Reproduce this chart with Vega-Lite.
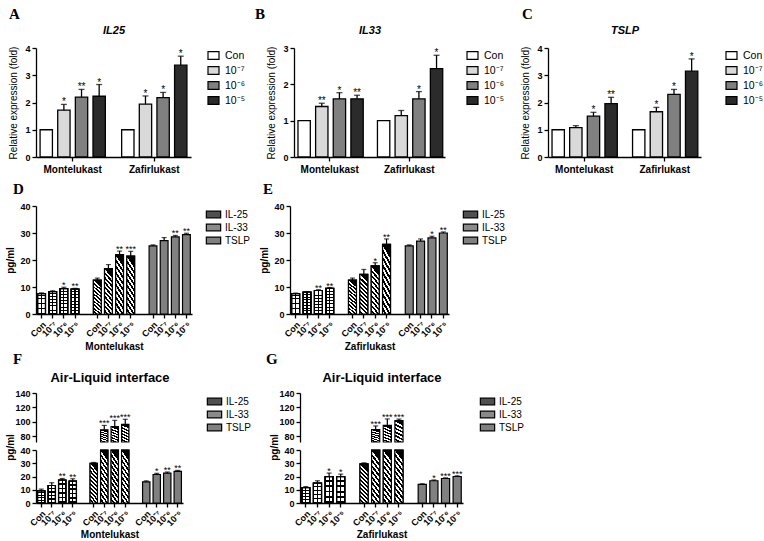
{
"$schema":"https://vega.github.io/schema/vega-lite/v6.json",
"padding":{"left":5,"top":7,"right":0,"bottom":0},
"background":"white",
"datasets":{
"fold":[
{"gene":"IL25","drug":"Montelukast","dose":"Con","v":1,"hi":null,"sig":""},
{"gene":"IL25","drug":"Montelukast","dose":"10⁻⁷","v":1.72,"hi":1.93,"sig":"*"},
{"gene":"IL25","drug":"Montelukast","dose":"10⁻⁶","v":2.2,"hi":2.48,"sig":"**"},
{"gene":"IL25","drug":"Montelukast","dose":"10⁻⁵","v":2.23,"hi":2.66,"sig":"*"},
{"gene":"IL25","drug":"Zafirlukast","dose":"Con","v":1,"hi":null,"sig":""},
{"gene":"IL25","drug":"Zafirlukast","dose":"10⁻⁷","v":1.94,"hi":2.24,"sig":"*"},
{"gene":"IL25","drug":"Zafirlukast","dose":"10⁻⁶","v":2.18,"hi":2.37,"sig":"*"},
{"gene":"IL25","drug":"Zafirlukast","dose":"10⁻⁵","v":3.37,"hi":3.7,"sig":"*"},
{"gene":"IL33","drug":"Montelukast","dose":"Con","v":1,"hi":null,"sig":""},
{"gene":"IL33","drug":"Montelukast","dose":"10⁻⁷","v":1.39,"hi":1.48,"sig":"**"},
{"gene":"IL33","drug":"Montelukast","dose":"10⁻⁶","v":1.6,"hi":1.77,"sig":"*"},
{"gene":"IL33","drug":"Montelukast","dose":"10⁻⁵","v":1.6,"hi":1.7,"sig":"**"},
{"gene":"IL33","drug":"Zafirlukast","dose":"Con","v":1,"hi":null,"sig":""},
{"gene":"IL33","drug":"Zafirlukast","dose":"10⁻⁷","v":1.14,"hi":1.28,"sig":""},
{"gene":"IL33","drug":"Zafirlukast","dose":"10⁻⁶","v":1.6,"hi":1.8,"sig":"*"},
{"gene":"IL33","drug":"Zafirlukast","dose":"10⁻⁵","v":2.43,"hi":2.8,"sig":"*"},
{"gene":"TSLP","drug":"Montelukast","dose":"Con","v":1,"hi":null,"sig":""},
{"gene":"TSLP","drug":"Montelukast","dose":"10⁻⁷","v":1.08,"hi":1.15,"sig":""},
{"gene":"TSLP","drug":"Montelukast","dose":"10⁻⁶","v":1.5,"hi":1.64,"sig":"*"},
{"gene":"TSLP","drug":"Montelukast","dose":"10⁻⁵","v":1.96,"hi":2.19,"sig":"**"},
{"gene":"TSLP","drug":"Zafirlukast","dose":"Con","v":1,"hi":null,"sig":""},
{"gene":"TSLP","drug":"Zafirlukast","dose":"10⁻⁷","v":1.66,"hi":1.82,"sig":"*"},
{"gene":"TSLP","drug":"Zafirlukast","dose":"10⁻⁶","v":2.3,"hi":2.48,"sig":"*"},
{"gene":"TSLP","drug":"Zafirlukast","dose":"10⁻⁵","v":3.15,"hi":3.6,"sig":"*"}
],
"pg":[
{"panel":"D","cyt":"IL-25","dose":"Con","k":"IL-25|Con","v":7.5,"hi":7.8,"sig":""},
{"panel":"D","cyt":"IL-25","dose":"10⁻⁷","k":"IL-25|10⁻⁷","v":8.3,"hi":8.6,"sig":""},
{"panel":"D","cyt":"IL-25","dose":"10⁻⁶","k":"IL-25|10⁻⁶","v":9.4,"hi":9.9,"sig":"*"},
{"panel":"D","cyt":"IL-25","dose":"10⁻⁵","k":"IL-25|10⁻⁵","v":9.2,"hi":9.5,"sig":"**"},
{"panel":"D","cyt":"IL-33","dose":"Con","k":"IL-33|Con","v":12.6,"hi":13.3,"sig":""},
{"panel":"D","cyt":"IL-33","dose":"10⁻⁷","k":"IL-33|10⁻⁷","v":16.8,"hi":18.3,"sig":""},
{"panel":"D","cyt":"IL-33","dose":"10⁻⁶","k":"IL-33|10⁻⁶","v":22.0,"hi":23.3,"sig":"**"},
{"panel":"D","cyt":"IL-33","dose":"10⁻⁵","k":"IL-33|10⁻⁵","v":21.4,"hi":23.2,"sig":"***"},
{"panel":"D","cyt":"TSLP","dose":"Con","k":"TSLP|Con","v":25.2,"hi":25.6,"sig":""},
{"panel":"D","cyt":"TSLP","dose":"10⁻⁷","k":"TSLP|10⁻⁷","v":27.2,"hi":28.3,"sig":""},
{"panel":"D","cyt":"TSLP","dose":"10⁻⁶","k":"TSLP|10⁻⁶","v":28.6,"hi":29.1,"sig":"**"},
{"panel":"D","cyt":"TSLP","dose":"10⁻⁵","k":"TSLP|10⁻⁵","v":29.4,"hi":29.9,"sig":"**"},
{"panel":"E","cyt":"IL-25","dose":"Con","k":"IL-25|Con","v":7.5,"hi":7.7,"sig":""},
{"panel":"E","cyt":"IL-25","dose":"10⁻⁷","k":"IL-25|10⁻⁷","v":8.1,"hi":8.3,"sig":""},
{"panel":"E","cyt":"IL-25","dose":"10⁻⁶","k":"IL-25|10⁻⁶","v":8.7,"hi":9.0,"sig":"**"},
{"panel":"E","cyt":"IL-25","dose":"10⁻⁵","k":"IL-25|10⁻⁵","v":9.5,"hi":9.8,"sig":"**"},
{"panel":"E","cyt":"IL-33","dose":"Con","k":"IL-33|Con","v":12.6,"hi":13.3,"sig":""},
{"panel":"E","cyt":"IL-33","dose":"10⁻⁷","k":"IL-33|10⁻⁷","v":14.7,"hi":16.5,"sig":""},
{"panel":"E","cyt":"IL-33","dose":"10⁻⁶","k":"IL-33|10⁻⁶","v":17.8,"hi":19.0,"sig":"*"},
{"panel":"E","cyt":"IL-33","dose":"10⁻⁵","k":"IL-33|10⁻⁵","v":25.8,"hi":27.8,"sig":"**"},
{"panel":"E","cyt":"TSLP","dose":"Con","k":"TSLP|Con","v":25.2,"hi":25.6,"sig":""},
{"panel":"E","cyt":"TSLP","dose":"10⁻⁷","k":"TSLP|10⁻⁷","v":27.0,"hi":27.8,"sig":""},
{"panel":"E","cyt":"TSLP","dose":"10⁻⁶","k":"TSLP|10⁻⁶","v":28.2,"hi":28.8,"sig":"*"},
{"panel":"E","cyt":"TSLP","dose":"10⁻⁵","k":"TSLP|10⁻⁵","v":30.0,"hi":30.4,"sig":"**"},
{"panel":"F","cyt":"IL-25","dose":"Con","k":"IL-25|Con","v":9.2,"hi":10.5,"sig":""},
{"panel":"F","cyt":"IL-25","dose":"10⁻⁷","k":"IL-25|10⁻⁷","v":13.2,"hi":15.3,"sig":""},
{"panel":"F","cyt":"IL-25","dose":"10⁻⁶","k":"IL-25|10⁻⁶","v":17.2,"hi":18.5,"sig":"**"},
{"panel":"F","cyt":"IL-25","dose":"10⁻⁵","k":"IL-25|10⁻⁵","v":16.5,"hi":18.3,"sig":"**"},
{"panel":"F","cyt":"IL-33","dose":"Con","k":"IL-33|Con","v":30.0,"hi":30.6,"sig":""},
{"panel":"F","cyt":"IL-33","dose":"10⁻⁷","k":"IL-33|10⁻⁷","v":89.0,"hi":95.0,"sig":"***"},
{"panel":"F","cyt":"IL-33","dose":"10⁻⁶","k":"IL-33|10⁻⁶","v":93.5,"hi":102.0,"sig":"***"},
{"panel":"F","cyt":"IL-33","dose":"10⁻⁵","k":"IL-33|10⁻⁵","v":96.5,"hi":103.5,"sig":"***"},
{"panel":"F","cyt":"TSLP","dose":"Con","k":"TSLP|Con","v":16.0,"hi":16.7,"sig":""},
{"panel":"F","cyt":"TSLP","dose":"10⁻⁷","k":"TSLP|10⁻⁷","v":21.5,"hi":22.4,"sig":"*"},
{"panel":"F","cyt":"TSLP","dose":"10⁻⁶","k":"TSLP|10⁻⁶","v":22.6,"hi":23.4,"sig":"**"},
{"panel":"F","cyt":"TSLP","dose":"10⁻⁵","k":"TSLP|10⁻⁵","v":23.8,"hi":24.6,"sig":"**"},
{"panel":"G","cyt":"IL-25","dose":"Con","k":"IL-25|Con","v":11.6,"hi":12.4,"sig":""},
{"panel":"G","cyt":"IL-25","dose":"10⁻⁷","k":"IL-25|10⁻⁷","v":15.0,"hi":16.8,"sig":""},
{"panel":"G","cyt":"IL-25","dose":"10⁻⁶","k":"IL-25|10⁻⁶","v":19.9,"hi":22.6,"sig":"*"},
{"panel":"G","cyt":"IL-25","dose":"10⁻⁵","k":"IL-25|10⁻⁵","v":19.8,"hi":21.8,"sig":"*"},
{"panel":"G","cyt":"IL-33","dose":"Con","k":"IL-33|Con","v":29.6,"hi":30.3,"sig":""},
{"panel":"G","cyt":"IL-33","dose":"10⁻⁷","k":"IL-33|10⁻⁷","v":89.2,"hi":94.3,"sig":"***"},
{"panel":"G","cyt":"IL-33","dose":"10⁻⁶","k":"IL-33|10⁻⁶","v":95.2,"hi":104.0,"sig":"***"},
{"panel":"G","cyt":"IL-33","dose":"10⁻⁵","k":"IL-33|10⁻⁵","v":101.7,"hi":103.8,"sig":"***"},
{"panel":"G","cyt":"TSLP","dose":"Con","k":"TSLP|Con","v":14.0,"hi":14.5,"sig":""},
{"panel":"G","cyt":"TSLP","dose":"10⁻⁷","k":"TSLP|10⁻⁷","v":16.8,"hi":17.4,"sig":"*"},
{"panel":"G","cyt":"TSLP","dose":"10⁻⁶","k":"TSLP|10⁻⁶","v":18.5,"hi":19.0,"sig":"***"},
{"panel":"G","cyt":"TSLP","dose":"10⁻⁵","k":"TSLP|10⁻⁵","v":20.0,"hi":20.5,"sig":"***"}
]
},
"config":{
"font":"Liberation Sans",
"view":{"stroke":null},
"axis":{"domainColor":"#000","domainWidth":1.3,"tickColor":"#000","tickWidth":1.3,"tickSize":4,"labelColor":"#000","labelFont":"Liberation Sans","labelFontSize":9,"labelFontWeight":"bold","labelOverlap":false,"titleColor":"#000","titleFont":"Liberation Sans","titleFontSize":10,"titleFontWeight":"normal","grid":false},
"legend":{"labelFont":"Liberation Sans","labelFontSize":10.5,"labelColor":"#000","symbolStrokeColor":"#000","symbolStrokeWidth":1.2,"symbolOpacity":1,"labelOffset":5},
"title":{"font":"Liberation Serif","fontSize":15,"fontWeight":"bold","anchor":"start","frame":"group","color":"#000"}
},
"resolve":{"scale":{"fill":"independent","xOffset":"independent"},"legend":{"fill":"independent"}},
"spacing":8,
"vconcat":[
{
"hconcat":[
{"width":155,"height":109,"title":{"text":"A","dx":-27,"offset":2},
"data":{"name":"fold"},"transform":[{"filter":"datum.gene==='IL25'"}],
"encoding":{
"x":{"field":"drug","type":"nominal","sort":["Montelukast","Zafirlukast"],"scale":{"paddingInner":0.2,"paddingOuter":0.05},"axis":{"title":null,"labelAngle":0,"labelFontSize":10,"labelPadding":3}},
"xOffset":{"field":"dose","type":"nominal","sort":["Con","10⁻⁷","10⁻⁶","10⁻⁵"],"scale":{"paddingInner":0.3}},
"y":{"field":"v","type":"quantitative","scale":{"domain":[0,4],"nice":false},"axis":{"title":"Relative expression (fold)","values":[0,1,2,3,4],"titlePadding":6,"labelOverlap":false}}
},
"layer":[
{"mark":{"type":"bar","stroke":"#000","strokeWidth":1.3},"encoding":{
"fill":{"field":"dose","type":"nominal","scale":{"domain":["Con","10⁻⁷","10⁻⁶","10⁻⁵"],"range":["#ffffff","#d9d9d9","#808080","#2b2b2b"]},"legend":{"title":null,"offset":15,"rowPadding":2,"padding":1,"symbolType":"M-1,-0.7H1V0.7H-1Z","symbolSize":121}}}},
{"transform":[{"filter":"isValid(datum.hi)"}],"mark":{"type":"rule","color":"#000","strokeWidth":1.3},"encoding":{
"x":{"field":"drug","type":"nominal","sort":["Montelukast","Zafirlukast"],"axis":{"orient":"top","title":"IL25","domain":false,"ticks":false,"labels":false,"titleFontStyle":"italic","titleFontWeight":"bold","titleFontSize":11,"titlePadding":13}},
"y2":{"field":"hi"}}},
{"transform":[{"filter":"isValid(datum.hi)"}],"mark":{"type":"tick","color":"#000","size":6,"thickness":1.3},"encoding":{
"x":{"field":"drug","type":"nominal","sort":["Montelukast","Zafirlukast"],"axis":null},
"y":{"field":"hi","type":"quantitative","axis":{"title":"Relative expression (fold)","values":[0,1,2,3,4],"titlePadding":6,"labelOverlap":false}}}},
{"transform":[{"filter":"datum.sig !== ''"}],"mark":{"type":"text","fontSize":10,"baseline":"alphabetic","dy":1,"fill":"#000"},"encoding":{
"x":{"field":"drug","type":"nominal","sort":["Montelukast","Zafirlukast"],"axis":null},
"y":{"field":"hi","type":"quantitative","axis":{"title":"Relative expression (fold)","values":[0,1,2,3,4],"titlePadding":6,"labelOverlap":false}},"text":{"field":"sig"}}}
],
"resolve":{"axis":{"x":"independent"}}},
{"width":151,"height":109,"title":{"text":"B","dx":-39,"offset":2},
"data":{"name":"fold"},"transform":[{"filter":"datum.gene==='IL33'"}],
"encoding":{
"x":{"field":"drug","type":"nominal","sort":["Montelukast","Zafirlukast"],"scale":{"paddingInner":0.2,"paddingOuter":0.05},"axis":{"title":null,"labelAngle":0,"labelFontSize":10,"labelPadding":3}},
"xOffset":{"field":"dose","type":"nominal","sort":["Con","10⁻⁷","10⁻⁶","10⁻⁵"],"scale":{"paddingInner":0.3}},
"y":{"field":"v","type":"quantitative","scale":{"domain":[0,3],"nice":false},"axis":{"title":"Relative expression (fold)","values":[0,1,2,3],"titlePadding":6,"labelOverlap":false}}
},
"layer":[
{"mark":{"type":"bar","stroke":"#000","strokeWidth":1.3},"encoding":{
"fill":{"field":"dose","type":"nominal","scale":{"domain":["Con","10⁻⁷","10⁻⁶","10⁻⁵"],"range":["#ffffff","#d9d9d9","#808080","#2b2b2b"]},"legend":{"title":null,"offset":20,"rowPadding":2,"padding":1,"symbolType":"M-1,-0.7H1V0.7H-1Z","symbolSize":121}}}},
{"transform":[{"filter":"isValid(datum.hi)"}],"mark":{"type":"rule","color":"#000","strokeWidth":1.3},"encoding":{
"x":{"field":"drug","type":"nominal","sort":["Montelukast","Zafirlukast"],"axis":{"orient":"top","title":"IL33","domain":false,"ticks":false,"labels":false,"titleFontStyle":"italic","titleFontWeight":"bold","titleFontSize":11,"titlePadding":13}},
"y2":{"field":"hi"}}},
{"transform":[{"filter":"isValid(datum.hi)"}],"mark":{"type":"tick","color":"#000","size":6,"thickness":1.3},"encoding":{
"x":{"field":"drug","type":"nominal","sort":["Montelukast","Zafirlukast"],"axis":null},
"y":{"field":"hi","type":"quantitative","axis":{"title":"Relative expression (fold)","values":[0,1,2,3],"titlePadding":6,"labelOverlap":false}}}},
{"transform":[{"filter":"datum.sig !== ''"}],"mark":{"type":"text","fontSize":10,"baseline":"alphabetic","dy":1,"fill":"#000"},"encoding":{
"x":{"field":"drug","type":"nominal","sort":["Montelukast","Zafirlukast"],"axis":null},
"y":{"field":"hi","type":"quantitative","axis":{"title":"Relative expression (fold)","values":[0,1,2,3],"titlePadding":6,"labelOverlap":false}},"text":{"field":"sig"}}}
],
"resolve":{"axis":{"x":"independent"}}},
{"width":153,"height":109,"title":{"text":"C","dx":-26,"offset":2},
"data":{"name":"fold"},"transform":[{"filter":"datum.gene==='TSLP'"}],
"encoding":{
"x":{"field":"drug","type":"nominal","sort":["Montelukast","Zafirlukast"],"scale":{"paddingInner":0.2,"paddingOuter":0.05},"axis":{"title":null,"labelAngle":0,"labelFontSize":10,"labelPadding":3}},
"xOffset":{"field":"dose","type":"nominal","sort":["Con","10⁻⁷","10⁻⁶","10⁻⁵"],"scale":{"paddingInner":0.3}},
"y":{"field":"v","type":"quantitative","scale":{"domain":[0,4],"nice":false},"axis":{"title":"Relative expression (fold)","values":[0,1,2,3,4],"titlePadding":6,"labelOverlap":false}}
},
"layer":[
{"mark":{"type":"bar","stroke":"#000","strokeWidth":1.3},"encoding":{
"fill":{"field":"dose","type":"nominal","scale":{"domain":["Con","10⁻⁷","10⁻⁶","10⁻⁵"],"range":["#ffffff","#d9d9d9","#808080","#2b2b2b"]},"legend":{"title":null,"offset":23,"rowPadding":2,"padding":1,"symbolType":"M-1,-0.7H1V0.7H-1Z","symbolSize":121}}}},
{"transform":[{"filter":"isValid(datum.hi)"}],"mark":{"type":"rule","color":"#000","strokeWidth":1.3},"encoding":{
"x":{"field":"drug","type":"nominal","sort":["Montelukast","Zafirlukast"],"axis":{"orient":"top","title":"TSLP","domain":false,"ticks":false,"labels":false,"titleFontStyle":"italic","titleFontWeight":"bold","titleFontSize":11,"titlePadding":13}},
"y2":{"field":"hi"}}},
{"transform":[{"filter":"isValid(datum.hi)"}],"mark":{"type":"tick","color":"#000","size":6,"thickness":1.3},"encoding":{
"x":{"field":"drug","type":"nominal","sort":["Montelukast","Zafirlukast"],"axis":null},
"y":{"field":"hi","type":"quantitative","axis":{"title":"Relative expression (fold)","values":[0,1,2,3,4],"titlePadding":6,"labelOverlap":false}}}},
{"transform":[{"filter":"datum.sig !== ''"}],"mark":{"type":"text","fontSize":10,"baseline":"alphabetic","dy":1,"fill":"#000"},"encoding":{
"x":{"field":"drug","type":"nominal","sort":["Montelukast","Zafirlukast"],"axis":null},
"y":{"field":"hi","type":"quantitative","axis":{"title":"Relative expression (fold)","values":[0,1,2,3,4],"titlePadding":6,"labelOverlap":false}},"text":{"field":"sig"}}}
],
"resolve":{"axis":{"x":"independent"}}}
],
"spacing":103,"bounds":"flush",
"resolve":{"scale":{"fill":"independent"},"legend":{"fill":"independent"}}
},
{
"spacing":0,
"resolve":{"scale":{"fill":"independent"},"legend":{"fill":"independent"}},
"vconcat":[
{
"hconcat":[
{"width":156,"height":108,"title":{"text":"D","dx":-23,"offset":5},
"data":{"name":"pg"},"transform":[{"filter":"datum.panel==='D'"}],
"encoding":{
"x":{"field":"k","type":"nominal","scale":{"domain":["IL-25|Con","IL-25|10⁻⁷","IL-25|10⁻⁶","IL-25|10⁻⁵","g1","IL-33|Con","IL-33|10⁻⁷","IL-33|10⁻⁶","IL-33|10⁻⁵","g2","TSLP|Con","TSLP|10⁻⁷","TSLP|10⁻⁶","TSLP|10⁻⁵"],"paddingInner":0.3,"paddingOuter":0.15},"axis":{"title":"Montelukast","titleFontWeight":"bold","titlePadding":3,"labelAngle":-45,"labelPadding":2,"labelExpr":"indexof(datum.value,'|') > 0 ? split(datum.value,'|')[1] : ''","tickOpacity":{"condition":{"test":"datum.value==='g1' || datum.value==='g2'","value":0},"value":1}}},
"y":{"field":"v","type":"quantitative","scale":{"domain":[0,40],"nice":false},"axis":{"title":"pg/ml","titleFontWeight":"bold","values":[0,10,20,30,40]}}
},
"layer":[
{"mark":{"type":"bar","stroke":"#000","strokeWidth":1.2},"encoding":{"fill":{"field":"cyt","type":"nominal","scale":{"domain":["IL-25","IL-33","TSLP"],"range":["#505050","#8a8a8a","#808080"]},"legend":{"title":null,"offset":13,"rowPadding":0,"padding":2,"labelFontSize":10,"symbolType":"M-1.3,-0.6H1.3V0.6H-1.3Z","symbolSize":121}}}},
{"transform":[{"filter":"datum.cyt==='IL-25'"}],"mark":{"type":"bar","stroke":"#000","strokeWidth":1.2,"fill":{"gradient":"linear","x1":0,"y1":0,"x2":1,"y2":0,"stops":[{"offset":0,"color":"#000"},{"offset":0.1,"color":"#000"},{"offset":0.1,"color":"#fff"},{"offset":0.43,"color":"#fff"},{"offset":0.43,"color":"#000"},{"offset":0.57,"color":"#000"},{"offset":0.57,"color":"#fff"},{"offset":0.9,"color":"#fff"},{"offset":0.9,"color":"#000"},{"offset":1,"color":"#000"}]}}},
{"transform":[{"filter":"datum.cyt==='IL-25'"}],"mark":{"type":"bar","stroke":"#000","strokeWidth":1.2,"fill":{"gradient":"linear","x1":0,"y1":0,"x2":0,"y2":1,"stops":[{"offset":0,"color":"rgba(0,0,0,0)"},{"offset":0.085,"color":"rgba(0,0,0,0)"},{"offset":0.085,"color":"#000"},{"offset":0.125,"color":"#000"},{"offset":0.125,"color":"rgba(0,0,0,0)"},{"offset":0.21,"color":"rgba(0,0,0,0)"},{"offset":0.21,"color":"#000"},{"offset":0.25,"color":"#000"},{"offset":0.25,"color":"rgba(0,0,0,0)"},{"offset":0.335,"color":"rgba(0,0,0,0)"},{"offset":0.335,"color":"#000"},{"offset":0.375,"color":"#000"},{"offset":0.375,"color":"rgba(0,0,0,0)"},{"offset":0.46,"color":"rgba(0,0,0,0)"},{"offset":0.46,"color":"#000"},{"offset":0.5,"color":"#000"},{"offset":0.5,"color":"rgba(0,0,0,0)"},{"offset":0.585,"color":"rgba(0,0,0,0)"},{"offset":0.585,"color":"#000"},{"offset":0.625,"color":"#000"},{"offset":0.625,"color":"rgba(0,0,0,0)"},{"offset":0.71,"color":"rgba(0,0,0,0)"},{"offset":0.71,"color":"#000"},{"offset":0.75,"color":"#000"},{"offset":0.75,"color":"rgba(0,0,0,0)"},{"offset":0.835,"color":"rgba(0,0,0,0)"},{"offset":0.835,"color":"#000"},{"offset":0.875,"color":"#000"},{"offset":0.875,"color":"rgba(0,0,0,0)"},{"offset":0.96,"color":"rgba(0,0,0,0)"},{"offset":0.96,"color":"#000"},{"offset":1,"color":"#000"}]}}},
{"transform":[{"filter":"datum.cyt==='IL-33'"}],"mark":{"type":"bar","stroke":"#000","strokeWidth":1.2,"fill":{"gradient":"linear","x1":0.2,"y1":0,"x2":0,"y2":1,"stops":[{"offset":0,"color":"#000"},{"offset":0.05,"color":"#000"},{"offset":0.05,"color":"#fff"},{"offset":0.1,"color":"#fff"},{"offset":0.1,"color":"#000"},{"offset":0.15,"color":"#000"},{"offset":0.15,"color":"#fff"},{"offset":0.2,"color":"#fff"},{"offset":0.2,"color":"#000"},{"offset":0.25,"color":"#000"},{"offset":0.25,"color":"#fff"},{"offset":0.3,"color":"#fff"},{"offset":0.3,"color":"#000"},{"offset":0.35,"color":"#000"},{"offset":0.35,"color":"#fff"},{"offset":0.4,"color":"#fff"},{"offset":0.4,"color":"#000"},{"offset":0.45,"color":"#000"},{"offset":0.45,"color":"#fff"},{"offset":0.5,"color":"#fff"},{"offset":0.5,"color":"#000"},{"offset":0.55,"color":"#000"},{"offset":0.55,"color":"#fff"},{"offset":0.6,"color":"#fff"},{"offset":0.6,"color":"#000"},{"offset":0.65,"color":"#000"},{"offset":0.65,"color":"#fff"},{"offset":0.7,"color":"#fff"},{"offset":0.7,"color":"#000"},{"offset":0.75,"color":"#000"},{"offset":0.75,"color":"#fff"},{"offset":0.8,"color":"#fff"},{"offset":0.8,"color":"#000"},{"offset":0.85,"color":"#000"},{"offset":0.85,"color":"#fff"},{"offset":0.9,"color":"#fff"},{"offset":0.9,"color":"#000"},{"offset":0.95,"color":"#000"},{"offset":0.95,"color":"#fff"},{"offset":1,"color":"#fff"}]}}},
{"mark":{"type":"rule","color":"#000","strokeWidth":1.2},"encoding":{"y2":{"field":"hi"}}},
{"mark":{"type":"tick","color":"#000","size":5,"thickness":1.2},"encoding":{"y":{"field":"hi","type":"quantitative","axis":{"title":"pg/ml","titleFontWeight":"bold","values":[0,10,20,30,40]}}}},
{"transform":[{"filter":"datum.sig !== ''"}],"mark":{"type":"text","fontSize":9,"baseline":"alphabetic","dy":1,"fill":"#000"},"encoding":{"y":{"field":"hi","type":"quantitative","axis":{"title":"pg/ml","titleFontWeight":"bold","values":[0,10,20,30,40]}},"text":{"field":"sig"}}}
]},
{"width":159,"height":108,"title":{"text":"E","dx":-27,"offset":5},
"data":{"name":"pg"},"transform":[{"filter":"datum.panel==='E'"}],
"encoding":{
"x":{"field":"k","type":"nominal","scale":{"domain":["IL-25|Con","IL-25|10⁻⁷","IL-25|10⁻⁶","IL-25|10⁻⁵","g1","IL-33|Con","IL-33|10⁻⁷","IL-33|10⁻⁶","IL-33|10⁻⁵","g2","TSLP|Con","TSLP|10⁻⁷","TSLP|10⁻⁶","TSLP|10⁻⁵"],"paddingInner":0.3,"paddingOuter":0.15},"axis":{"title":"Zafirlukast","titleFontWeight":"bold","titlePadding":3,"labelAngle":-45,"labelPadding":2,"labelExpr":"indexof(datum.value,'|') > 0 ? split(datum.value,'|')[1] : ''","tickOpacity":{"condition":{"test":"datum.value==='g1' || datum.value==='g2'","value":0},"value":1}}},
"y":{"field":"v","type":"quantitative","scale":{"domain":[0,40],"nice":false},"axis":{"title":"pg/ml","titleFontWeight":"bold","values":[0,10,20,30,40]}}
},
"layer":[
{"mark":{"type":"bar","stroke":"#000","strokeWidth":1.2},"encoding":{"fill":{"field":"cyt","type":"nominal","scale":{"domain":["IL-25","IL-33","TSLP"],"range":["#505050","#8a8a8a","#808080"]},"legend":{"title":null,"offset":13,"rowPadding":0,"padding":2,"labelFontSize":10,"symbolType":"M-1.3,-0.6H1.3V0.6H-1.3Z","symbolSize":121}}}},
{"transform":[{"filter":"datum.cyt==='IL-25'"}],"mark":{"type":"bar","stroke":"#000","strokeWidth":1.2,"fill":{"gradient":"linear","x1":0,"y1":0,"x2":1,"y2":0,"stops":[{"offset":0,"color":"#000"},{"offset":0.1,"color":"#000"},{"offset":0.1,"color":"#fff"},{"offset":0.43,"color":"#fff"},{"offset":0.43,"color":"#000"},{"offset":0.57,"color":"#000"},{"offset":0.57,"color":"#fff"},{"offset":0.9,"color":"#fff"},{"offset":0.9,"color":"#000"},{"offset":1,"color":"#000"}]}}},
{"transform":[{"filter":"datum.cyt==='IL-25'"}],"mark":{"type":"bar","stroke":"#000","strokeWidth":1.2,"fill":{"gradient":"linear","x1":0,"y1":0,"x2":0,"y2":1,"stops":[{"offset":0,"color":"rgba(0,0,0,0)"},{"offset":0.085,"color":"rgba(0,0,0,0)"},{"offset":0.085,"color":"#000"},{"offset":0.125,"color":"#000"},{"offset":0.125,"color":"rgba(0,0,0,0)"},{"offset":0.21,"color":"rgba(0,0,0,0)"},{"offset":0.21,"color":"#000"},{"offset":0.25,"color":"#000"},{"offset":0.25,"color":"rgba(0,0,0,0)"},{"offset":0.335,"color":"rgba(0,0,0,0)"},{"offset":0.335,"color":"#000"},{"offset":0.375,"color":"#000"},{"offset":0.375,"color":"rgba(0,0,0,0)"},{"offset":0.46,"color":"rgba(0,0,0,0)"},{"offset":0.46,"color":"#000"},{"offset":0.5,"color":"#000"},{"offset":0.5,"color":"rgba(0,0,0,0)"},{"offset":0.585,"color":"rgba(0,0,0,0)"},{"offset":0.585,"color":"#000"},{"offset":0.625,"color":"#000"},{"offset":0.625,"color":"rgba(0,0,0,0)"},{"offset":0.71,"color":"rgba(0,0,0,0)"},{"offset":0.71,"color":"#000"},{"offset":0.75,"color":"#000"},{"offset":0.75,"color":"rgba(0,0,0,0)"},{"offset":0.835,"color":"rgba(0,0,0,0)"},{"offset":0.835,"color":"#000"},{"offset":0.875,"color":"#000"},{"offset":0.875,"color":"rgba(0,0,0,0)"},{"offset":0.96,"color":"rgba(0,0,0,0)"},{"offset":0.96,"color":"#000"},{"offset":1,"color":"#000"}]}}},
{"transform":[{"filter":"datum.cyt==='IL-33'"}],"mark":{"type":"bar","stroke":"#000","strokeWidth":1.2,"fill":{"gradient":"linear","x1":0.2,"y1":0,"x2":0,"y2":1,"stops":[{"offset":0,"color":"#000"},{"offset":0.05,"color":"#000"},{"offset":0.05,"color":"#fff"},{"offset":0.1,"color":"#fff"},{"offset":0.1,"color":"#000"},{"offset":0.15,"color":"#000"},{"offset":0.15,"color":"#fff"},{"offset":0.2,"color":"#fff"},{"offset":0.2,"color":"#000"},{"offset":0.25,"color":"#000"},{"offset":0.25,"color":"#fff"},{"offset":0.3,"color":"#fff"},{"offset":0.3,"color":"#000"},{"offset":0.35,"color":"#000"},{"offset":0.35,"color":"#fff"},{"offset":0.4,"color":"#fff"},{"offset":0.4,"color":"#000"},{"offset":0.45,"color":"#000"},{"offset":0.45,"color":"#fff"},{"offset":0.5,"color":"#fff"},{"offset":0.5,"color":"#000"},{"offset":0.55,"color":"#000"},{"offset":0.55,"color":"#fff"},{"offset":0.6,"color":"#fff"},{"offset":0.6,"color":"#000"},{"offset":0.65,"color":"#000"},{"offset":0.65,"color":"#fff"},{"offset":0.7,"color":"#fff"},{"offset":0.7,"color":"#000"},{"offset":0.75,"color":"#000"},{"offset":0.75,"color":"#fff"},{"offset":0.8,"color":"#fff"},{"offset":0.8,"color":"#000"},{"offset":0.85,"color":"#000"},{"offset":0.85,"color":"#fff"},{"offset":0.9,"color":"#fff"},{"offset":0.9,"color":"#000"},{"offset":0.95,"color":"#000"},{"offset":0.95,"color":"#fff"},{"offset":1,"color":"#fff"}]}}},
{"mark":{"type":"rule","color":"#000","strokeWidth":1.2},"encoding":{"y2":{"field":"hi"}}},
{"mark":{"type":"tick","color":"#000","size":5,"thickness":1.2},"encoding":{"y":{"field":"hi","type":"quantitative","axis":{"title":"pg/ml","titleFontWeight":"bold","values":[0,10,20,30,40]}}}},
{"transform":[{"filter":"datum.sig !== ''"}],"mark":{"type":"text","fontSize":9,"baseline":"alphabetic","dy":1,"fill":"#000"},"encoding":{"y":{"field":"hi","type":"quantitative","axis":{"title":"pg/ml","titleFontWeight":"bold","values":[0,10,20,30,40]}},"text":{"field":"sig"}}}
]}
],
"spacing":98,"bounds":"flush",
"resolve":{"scale":{"fill":"independent"},"legend":{"fill":"independent"}}
},
{
"hconcat":[
{"spacing":8,"bounds":"flush","vconcat":[
{"width":147,"height":49,"title":{"text":"F","dx":-23,"offset":4},
"data":{"name":"pg"},"transform":[{"filter":"datum.panel==='F' && datum.cyt==='IL-33' && datum.dose!=='Con'"}],
"encoding":{
"x":{"field":"k","type":"nominal","scale":{"domain":["IL-25|Con","IL-25|10⁻⁷","IL-25|10⁻⁶","IL-25|10⁻⁵","g1","IL-33|Con","IL-33|10⁻⁷","IL-33|10⁻⁶","IL-33|10⁻⁵","g2","TSLP|Con","TSLP|10⁻⁷","TSLP|10⁻⁶","TSLP|10⁻⁵"],"paddingInner":0.3,"paddingOuter":0.15},"axis":{"orient":"top","title":"Air-Liquid interface","titleFontWeight":"bold","titleFontSize":13,"titlePadding":9,"domain":false,"ticks":false,"labels":false}},
"y":{"field":"v","type":"quantitative","scale":{"domain":[72,140],"nice":false,"zero":false},"axis":{"title":null,"values":[80,100,120,140]}}
},
"layer":[
{"mark":{"type":"bar","stroke":"#000","strokeWidth":1.2,"fill":{"gradient":"linear","x1":0.2,"y1":0,"x2":0,"y2":1,"stops":[{"offset":0,"color":"#000"},{"offset":0.08,"color":"#000"},{"offset":0.08,"color":"#fff"},{"offset":0.167,"color":"#fff"},{"offset":0.167,"color":"#000"},{"offset":0.25,"color":"#000"},{"offset":0.25,"color":"#fff"},{"offset":0.333,"color":"#fff"},{"offset":0.333,"color":"#000"},{"offset":0.417,"color":"#000"},{"offset":0.417,"color":"#fff"},{"offset":0.5,"color":"#fff"},{"offset":0.5,"color":"#000"},{"offset":0.583,"color":"#000"},{"offset":0.583,"color":"#fff"},{"offset":0.667,"color":"#fff"},{"offset":0.667,"color":"#000"},{"offset":0.75,"color":"#000"},{"offset":0.75,"color":"#fff"},{"offset":0.833,"color":"#fff"},{"offset":0.833,"color":"#000"},{"offset":0.917,"color":"#000"},{"offset":0.917,"color":"#fff"},{"offset":1,"color":"#fff"}]}},"encoding":{"y2":{"datum":72}}},
{"mark":{"type":"rule","color":"#000","strokeWidth":1.2},"encoding":{"y2":{"field":"hi"}}},
{"mark":{"type":"tick","color":"#000","size":5,"thickness":1.2},"encoding":{"y":{"field":"hi","type":"quantitative","axis":{"title":null,"values":[80,100,120,140]}}}},
{"mark":{"type":"text","fontSize":9,"baseline":"alphabetic","dy":1,"fill":"#000"},"encoding":{"y":{"field":"hi","type":"quantitative","axis":{"title":null,"values":[80,100,120,140]}},"text":{"field":"sig"}}}
]},
{"width":147,"height":53,
"data":{"name":"pg"},"transform":[{"filter":"datum.panel==='F'"}],
"encoding":{
"x":{"field":"k","type":"nominal","scale":{"domain":["IL-25|Con","IL-25|10⁻⁷","IL-25|10⁻⁶","IL-25|10⁻⁵","g1","IL-33|Con","IL-33|10⁻⁷","IL-33|10⁻⁶","IL-33|10⁻⁵","g2","TSLP|Con","TSLP|10⁻⁷","TSLP|10⁻⁶","TSLP|10⁻⁵"],"paddingInner":0.3,"paddingOuter":0.15},"axis":{"title":"Montelukast","titleFontWeight":"bold","titlePadding":2,"labelAngle":-45,"labelPadding":2,"labelExpr":"indexof(datum.value,'|') > 0 ? split(datum.value,'|')[1] : ''","tickOpacity":{"condition":{"test":"datum.value==='g1' || datum.value==='g2'","value":0},"value":1}}},
"y":{"field":"v","type":"quantitative","scale":{"domain":[0,40],"nice":false,"clamp":true},"axis":{"title":"pg/ml","titleFontWeight":"bold","values":[0,10,20,30,40],"titleY":-3}}
},
"layer":[
{"mark":{"type":"bar","stroke":"#000","strokeWidth":1.2},"encoding":{"fill":{"field":"cyt","type":"nominal","scale":{"domain":["IL-25","IL-33","TSLP"],"range":["#505050","#8a8a8a","#808080"]},"legend":{"title":null,"offset":22,"rowPadding":0,"padding":2,"labelFontSize":10,"symbolType":"M-1.3,-0.6H1.3V0.6H-1.3Z","symbolSize":121}}}},
{"transform":[{"filter":"datum.cyt==='IL-25'"}],"mark":{"type":"bar","stroke":"#000","strokeWidth":1.2,"fill":{"gradient":"linear","x1":0,"y1":0,"x2":1,"y2":0,"stops":[{"offset":0,"color":"#000"},{"offset":0.1,"color":"#000"},{"offset":0.1,"color":"#fff"},{"offset":0.43,"color":"#fff"},{"offset":0.43,"color":"#000"},{"offset":0.57,"color":"#000"},{"offset":0.57,"color":"#fff"},{"offset":0.9,"color":"#fff"},{"offset":0.9,"color":"#000"},{"offset":1,"color":"#000"}]}}},
{"transform":[{"filter":"datum.cyt==='IL-25'"}],"mark":{"type":"bar","stroke":"#000","strokeWidth":1.2,"fill":{"gradient":"linear","x1":0,"y1":0,"x2":0,"y2":1,"stops":[{"offset":0,"color":"rgba(0,0,0,0)"},{"offset":0.13,"color":"rgba(0,0,0,0)"},{"offset":0.13,"color":"#000"},{"offset":0.2,"color":"#000"},{"offset":0.2,"color":"rgba(0,0,0,0)"},{"offset":0.33,"color":"rgba(0,0,0,0)"},{"offset":0.33,"color":"#000"},{"offset":0.4,"color":"#000"},{"offset":0.4,"color":"rgba(0,0,0,0)"},{"offset":0.53,"color":"rgba(0,0,0,0)"},{"offset":0.53,"color":"#000"},{"offset":0.6,"color":"#000"},{"offset":0.6,"color":"rgba(0,0,0,0)"},{"offset":0.73,"color":"rgba(0,0,0,0)"},{"offset":0.73,"color":"#000"},{"offset":0.8,"color":"#000"},{"offset":0.8,"color":"rgba(0,0,0,0)"},{"offset":0.93,"color":"rgba(0,0,0,0)"},{"offset":0.93,"color":"#000"},{"offset":1,"color":"#000"}]}}},
{"transform":[{"filter":"datum.cyt==='IL-33'"}],"mark":{"type":"bar","stroke":"#000","strokeWidth":1.2,"fill":{"gradient":"linear","x1":0.2,"y1":0,"x2":0,"y2":1,"stops":[{"offset":0,"color":"#000"},{"offset":0.05,"color":"#000"},{"offset":0.05,"color":"#fff"},{"offset":0.1,"color":"#fff"},{"offset":0.1,"color":"#000"},{"offset":0.15,"color":"#000"},{"offset":0.15,"color":"#fff"},{"offset":0.2,"color":"#fff"},{"offset":0.2,"color":"#000"},{"offset":0.25,"color":"#000"},{"offset":0.25,"color":"#fff"},{"offset":0.3,"color":"#fff"},{"offset":0.3,"color":"#000"},{"offset":0.35,"color":"#000"},{"offset":0.35,"color":"#fff"},{"offset":0.4,"color":"#fff"},{"offset":0.4,"color":"#000"},{"offset":0.45,"color":"#000"},{"offset":0.45,"color":"#fff"},{"offset":0.5,"color":"#fff"},{"offset":0.5,"color":"#000"},{"offset":0.55,"color":"#000"},{"offset":0.55,"color":"#fff"},{"offset":0.6,"color":"#fff"},{"offset":0.6,"color":"#000"},{"offset":0.65,"color":"#000"},{"offset":0.65,"color":"#fff"},{"offset":0.7,"color":"#fff"},{"offset":0.7,"color":"#000"},{"offset":0.75,"color":"#000"},{"offset":0.75,"color":"#fff"},{"offset":0.8,"color":"#fff"},{"offset":0.8,"color":"#000"},{"offset":0.85,"color":"#000"},{"offset":0.85,"color":"#fff"},{"offset":0.9,"color":"#fff"},{"offset":0.9,"color":"#000"},{"offset":0.95,"color":"#000"},{"offset":0.95,"color":"#fff"},{"offset":1,"color":"#fff"}]}}},
{"transform":[{"filter":"datum.v <= 40"}],"mark":{"type":"rule","color":"#000","strokeWidth":1.2},"encoding":{"y2":{"field":"hi"}}},
{"transform":[{"filter":"datum.v <= 40"}],"mark":{"type":"tick","color":"#000","size":5,"thickness":1.2},"encoding":{"y":{"field":"hi","type":"quantitative","axis":{"title":"pg/ml","titleFontWeight":"bold","values":[0,10,20,30,40],"titleY":-3}}}},
{"transform":[{"filter":"datum.v <= 40 && datum.sig !== ''"}],"mark":{"type":"text","fontSize":9,"baseline":"alphabetic","dy":1,"fill":"#000"},"encoding":{"y":{"field":"hi","type":"quantitative","axis":{"title":"pg/ml","titleFontWeight":"bold","values":[0,10,20,30,40],"titleY":-3}},"text":{"field":"sig"}}}
]}
]},
{"spacing":8,"bounds":"flush","vconcat":[
{"width":163,"height":49,"title":{"text":"G","dx":-34,"offset":4},
"data":{"name":"pg"},"transform":[{"filter":"datum.panel==='G' && datum.cyt==='IL-33' && datum.dose!=='Con'"}],
"encoding":{
"x":{"field":"k","type":"nominal","scale":{"domain":["IL-25|Con","IL-25|10⁻⁷","IL-25|10⁻⁶","IL-25|10⁻⁵","g1","IL-33|Con","IL-33|10⁻⁷","IL-33|10⁻⁶","IL-33|10⁻⁵","g2","TSLP|Con","TSLP|10⁻⁷","TSLP|10⁻⁶","TSLP|10⁻⁵"],"paddingInner":0.3,"paddingOuter":0.15},"axis":{"orient":"top","title":"Air-Liquid interface","titleFontWeight":"bold","titleFontSize":13,"titlePadding":9,"domain":false,"ticks":false,"labels":false}},
"y":{"field":"v","type":"quantitative","scale":{"domain":[72,140],"nice":false,"zero":false},"axis":{"title":null,"values":[80,100,120,140]}}
},
"layer":[
{"mark":{"type":"bar","stroke":"#000","strokeWidth":1.2,"fill":{"gradient":"linear","x1":0.2,"y1":0,"x2":0,"y2":1,"stops":[{"offset":0,"color":"#000"},{"offset":0.08,"color":"#000"},{"offset":0.08,"color":"#fff"},{"offset":0.167,"color":"#fff"},{"offset":0.167,"color":"#000"},{"offset":0.25,"color":"#000"},{"offset":0.25,"color":"#fff"},{"offset":0.333,"color":"#fff"},{"offset":0.333,"color":"#000"},{"offset":0.417,"color":"#000"},{"offset":0.417,"color":"#fff"},{"offset":0.5,"color":"#fff"},{"offset":0.5,"color":"#000"},{"offset":0.583,"color":"#000"},{"offset":0.583,"color":"#fff"},{"offset":0.667,"color":"#fff"},{"offset":0.667,"color":"#000"},{"offset":0.75,"color":"#000"},{"offset":0.75,"color":"#fff"},{"offset":0.833,"color":"#fff"},{"offset":0.833,"color":"#000"},{"offset":0.917,"color":"#000"},{"offset":0.917,"color":"#fff"},{"offset":1,"color":"#fff"}]}},"encoding":{"y2":{"datum":72}}},
{"mark":{"type":"rule","color":"#000","strokeWidth":1.2},"encoding":{"y2":{"field":"hi"}}},
{"mark":{"type":"tick","color":"#000","size":5,"thickness":1.2},"encoding":{"y":{"field":"hi","type":"quantitative","axis":{"title":null,"values":[80,100,120,140]}}}},
{"mark":{"type":"text","fontSize":9,"baseline":"alphabetic","dy":1,"fill":"#000"},"encoding":{"y":{"field":"hi","type":"quantitative","axis":{"title":null,"values":[80,100,120,140]}},"text":{"field":"sig"}}}
]},
{"width":163,"height":53,
"data":{"name":"pg"},"transform":[{"filter":"datum.panel==='G'"}],
"encoding":{
"x":{"field":"k","type":"nominal","scale":{"domain":["IL-25|Con","IL-25|10⁻⁷","IL-25|10⁻⁶","IL-25|10⁻⁵","g1","IL-33|Con","IL-33|10⁻⁷","IL-33|10⁻⁶","IL-33|10⁻⁵","g2","TSLP|Con","TSLP|10⁻⁷","TSLP|10⁻⁶","TSLP|10⁻⁵"],"paddingInner":0.3,"paddingOuter":0.15},"axis":{"title":"Zafirlukast","titleFontWeight":"bold","titlePadding":2,"labelAngle":-45,"labelPadding":2,"labelExpr":"indexof(datum.value,'|') > 0 ? split(datum.value,'|')[1] : ''","tickOpacity":{"condition":{"test":"datum.value==='g1' || datum.value==='g2'","value":0},"value":1}}},
"y":{"field":"v","type":"quantitative","scale":{"domain":[0,40],"nice":false,"clamp":true},"axis":{"title":"pg/ml","titleFontWeight":"bold","values":[0,10,20,30,40],"titleY":-3}}
},
"layer":[
{"mark":{"type":"bar","stroke":"#000","strokeWidth":1.2},"encoding":{"fill":{"field":"cyt","type":"nominal","scale":{"domain":["IL-25","IL-33","TSLP"],"range":["#505050","#8a8a8a","#808080"]},"legend":{"title":null,"offset":15,"rowPadding":0,"padding":2,"labelFontSize":10,"symbolType":"M-1.3,-0.6H1.3V0.6H-1.3Z","symbolSize":121}}}},
{"transform":[{"filter":"datum.cyt==='IL-25'"}],"mark":{"type":"bar","stroke":"#000","strokeWidth":1.2,"fill":{"gradient":"linear","x1":0,"y1":0,"x2":1,"y2":0,"stops":[{"offset":0,"color":"#000"},{"offset":0.1,"color":"#000"},{"offset":0.1,"color":"#fff"},{"offset":0.43,"color":"#fff"},{"offset":0.43,"color":"#000"},{"offset":0.57,"color":"#000"},{"offset":0.57,"color":"#fff"},{"offset":0.9,"color":"#fff"},{"offset":0.9,"color":"#000"},{"offset":1,"color":"#000"}]}}},
{"transform":[{"filter":"datum.cyt==='IL-25'"}],"mark":{"type":"bar","stroke":"#000","strokeWidth":1.2,"fill":{"gradient":"linear","x1":0,"y1":0,"x2":0,"y2":1,"stops":[{"offset":0,"color":"rgba(0,0,0,0)"},{"offset":0.13,"color":"rgba(0,0,0,0)"},{"offset":0.13,"color":"#000"},{"offset":0.2,"color":"#000"},{"offset":0.2,"color":"rgba(0,0,0,0)"},{"offset":0.33,"color":"rgba(0,0,0,0)"},{"offset":0.33,"color":"#000"},{"offset":0.4,"color":"#000"},{"offset":0.4,"color":"rgba(0,0,0,0)"},{"offset":0.53,"color":"rgba(0,0,0,0)"},{"offset":0.53,"color":"#000"},{"offset":0.6,"color":"#000"},{"offset":0.6,"color":"rgba(0,0,0,0)"},{"offset":0.73,"color":"rgba(0,0,0,0)"},{"offset":0.73,"color":"#000"},{"offset":0.8,"color":"#000"},{"offset":0.8,"color":"rgba(0,0,0,0)"},{"offset":0.93,"color":"rgba(0,0,0,0)"},{"offset":0.93,"color":"#000"},{"offset":1,"color":"#000"}]}}},
{"transform":[{"filter":"datum.cyt==='IL-33'"}],"mark":{"type":"bar","stroke":"#000","strokeWidth":1.2,"fill":{"gradient":"linear","x1":0.2,"y1":0,"x2":0,"y2":1,"stops":[{"offset":0,"color":"#000"},{"offset":0.05,"color":"#000"},{"offset":0.05,"color":"#fff"},{"offset":0.1,"color":"#fff"},{"offset":0.1,"color":"#000"},{"offset":0.15,"color":"#000"},{"offset":0.15,"color":"#fff"},{"offset":0.2,"color":"#fff"},{"offset":0.2,"color":"#000"},{"offset":0.25,"color":"#000"},{"offset":0.25,"color":"#fff"},{"offset":0.3,"color":"#fff"},{"offset":0.3,"color":"#000"},{"offset":0.35,"color":"#000"},{"offset":0.35,"color":"#fff"},{"offset":0.4,"color":"#fff"},{"offset":0.4,"color":"#000"},{"offset":0.45,"color":"#000"},{"offset":0.45,"color":"#fff"},{"offset":0.5,"color":"#fff"},{"offset":0.5,"color":"#000"},{"offset":0.55,"color":"#000"},{"offset":0.55,"color":"#fff"},{"offset":0.6,"color":"#fff"},{"offset":0.6,"color":"#000"},{"offset":0.65,"color":"#000"},{"offset":0.65,"color":"#fff"},{"offset":0.7,"color":"#fff"},{"offset":0.7,"color":"#000"},{"offset":0.75,"color":"#000"},{"offset":0.75,"color":"#fff"},{"offset":0.8,"color":"#fff"},{"offset":0.8,"color":"#000"},{"offset":0.85,"color":"#000"},{"offset":0.85,"color":"#fff"},{"offset":0.9,"color":"#fff"},{"offset":0.9,"color":"#000"},{"offset":0.95,"color":"#000"},{"offset":0.95,"color":"#fff"},{"offset":1,"color":"#fff"}]}}},
{"transform":[{"filter":"datum.v <= 40"}],"mark":{"type":"rule","color":"#000","strokeWidth":1.2},"encoding":{"y2":{"field":"hi"}}},
{"transform":[{"filter":"datum.v <= 40"}],"mark":{"type":"tick","color":"#000","size":5,"thickness":1.2},"encoding":{"y":{"field":"hi","type":"quantitative","axis":{"title":"pg/ml","titleFontWeight":"bold","values":[0,10,20,30,40],"titleY":-3}}}},
{"transform":[{"filter":"datum.v <= 40 && datum.sig !== ''"}],"mark":{"type":"text","fontSize":9,"baseline":"alphabetic","dy":1,"fill":"#000"},"encoding":{"y":{"field":"hi","type":"quantitative","axis":{"title":"pg/ml","titleFontWeight":"bold","values":[0,10,20,30,40],"titleY":-3}},"text":{"field":"sig"}}}
]}
]}
],
"spacing":12,
"resolve":{"scale":{"fill":"independent"},"legend":{"fill":"independent"}}
}
]
}
]
}
